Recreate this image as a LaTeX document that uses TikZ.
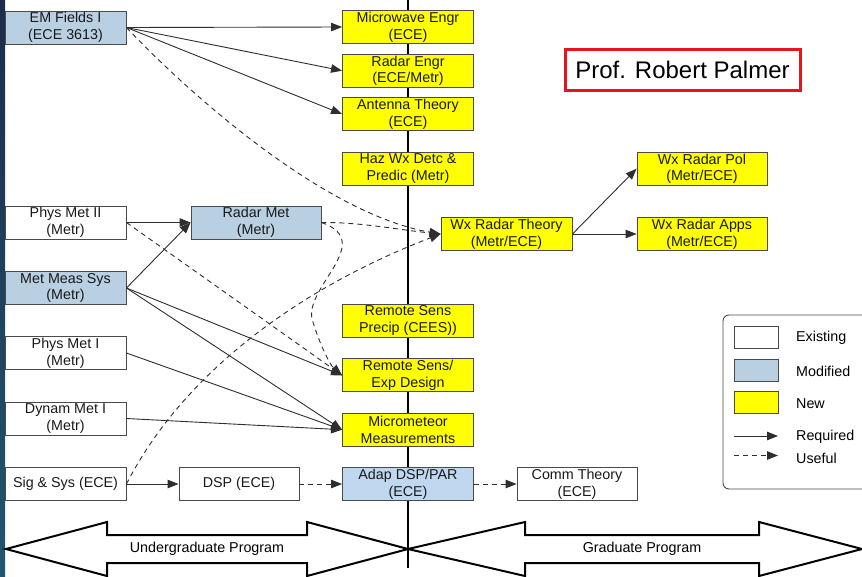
\documentclass[tikz,border=0pt]{standalone}
\usepackage{fontspec}
\setmainfont{Liberation Sans}
\usetikzlibrary{arrows.meta}
\definecolor{modblue}{HTML}{B9CFE2}
\definecolor{adapblue}{HTML}{BFD8F0}
\definecolor{newyellow}{HTML}{FFFF00}
\definecolor{boxline}{HTML}{4A4A4A}
\definecolor{linegray}{HTML}{2E2E2E}
\definecolor{profred}{HTML}{E8141C}
\definecolor{stripA}{HTML}{1B2D4B}
\definecolor{stripB}{HTML}{22566F}
\begin{document}
\begin{tikzpicture}[x=1pt,y=-1pt,
  course/.style={draw=boxline, line width=0.9pt, inner sep=0pt, align=center,
    font=\fontsize{14.3}{16.8}\selectfont, text=black!90},
  existing/.style={course, fill=white},
  modified/.style={course, fill=modblue},
  newc/.style={course, fill=newyellow},
  leftw/.style={minimum width=121pt, minimum height=33pt},
  midw/.style={minimum width=131pt, minimum height=33pt},
  narrow/.style={minimum width=120pt, minimum height=33pt},
  req/.style={draw=linegray, line width=0.9pt, -{Triangle[length=11pt,width=8.5pt]}},
  use/.style={req, dash pattern=on 5pt off 4pt},
  bigarrow/.style={draw=black, line width=2pt, fill=white, line join=miter},
  legtext/.style={anchor=west, inner sep=0pt, font=\fontsize{14.3}{16.8}\selectfont}
]
\useasboundingbox (0,0) rectangle (862,576);
\fill[white] (0,0) rectangle (862,576);
% dark window edge on the left
\shade[top color=stripA, bottom color=stripB] (0,0) rectangle (5,576);

% program divider
\draw[line width=2.5pt] (408,0) -- (408,568);

% undergraduate / graduate double arrows
\draw[bigarrow] (6,549) -- (107,522) -- (107,535) -- (307,535) -- (307,522) -- (408,549)
  -- (307,576) -- (307,563) -- (107,563) -- (107,576) -- cycle;
\draw[bigarrow] (408,549) -- (525,522) -- (525,535) -- (759,535) -- (759,522) -- (862,549)
  -- (759,576) -- (759,563) -- (525,563) -- (525,576) -- cycle;
\draw[line width=2.5pt] (408,521) -- (408,568);
\node[font=\fontsize{14.3}{16.8}\selectfont] (ug) at (207,549) {Undergraduate Program};
\node[font=\fontsize{14.3}{16.8}\selectfont] (gp) at (642,549) {Graduate Program};

% left column
\node[modified, leftw] (emf) at (65.5,27.5) {EM Fields I\\(ECE 3613)};
\node[existing, leftw] (pm2) at (65.5,222.5) {Phys Met II\\(Metr)};
\node[modified, leftw] (mms) at (65.5,288) {Met Meas Sys\\(Metr)};
\node[existing, leftw] (pm1) at (65.5,353) {Phys Met I\\(Metr)};
\node[existing, leftw] (dm1) at (65.5,418.5) {Dynam Met I\\(Metr)};
\node[existing, leftw] (sig) at (65.5,484) {Sig \& Sys (ECE)};

\node[modified, minimum width=130pt, minimum height=33pt] (rm) at (256,222.5) {Radar Met\\(Metr)};
\node[existing, narrow] (dsp) at (239,484) {DSP (ECE)};

% centre column
\node[newc, midw] (mw) at (408,27) {Microwave Engr\\(ECE)};
\node[newc, midw] (re) at (408,70.7) {Radar Engr\\(ECE/Metr)};
\node[newc, midw] (at) at (408,114) {Antenna Theory\\(ECE)};
\node[newc, midw] (hz) at (408,168.7) {Haz Wx Detc \&\\Predic (Metr)};
\node[newc, midw] (rsp) at (408,320.7) {Remote Sens\\Precip (CEES))};
\node[newc, midw] (rse) at (408,375.3) {Remote Sens/\\Exp Design};
\node[newc, midw] (mm) at (408,429.7) {Micrometeor\\Measurements};
\node[course, fill=adapblue, midw] (ad) at (408,484) {Adap DSP/PAR\\(ECE)};

% graduate side
\node[newc, midw] (wxt) at (506.5,234) {Wx Radar Theory\\(Metr/ECE)};
\node[newc, minimum width=130pt, minimum height=33pt] (wxp) at (702,168.7) {Wx Radar Pol\\(Metr/ECE)};
\node[newc, minimum width=130pt, minimum height=33pt] (wxa) at (702,234) {Wx Radar Apps\\(Metr/ECE)};
\node[existing, narrow] (ct) at (577,484) {Comm Theory\\(ECE)};

% name tag
\node[draw=profred, line width=3pt, minimum width=235pt, minimum height=41pt, inner sep=0pt,
  font=\fontsize{24}{28}\selectfont] (prof) at (682.5,69.5) {Prof. Robert Palmer};

% required links
\draw[req] (emf.east) -- (mw.west);
\draw[req] (emf.east) -- (re.west);
\draw[req] (emf.east) -- (at.west);
\draw[req] (pm2.east) -- (rm.west);
\draw[req] (mms.east) -- (rm.west);
\draw[req] (mms.east) -- (rse.west);
\draw[req] (mms.east) -- (mm.west);
\draw[req] (pm1.east) -- (mm.west);
\draw[req] (dm1.east) -- (mm.west);
\draw[req] (sig.east) -- (dsp.west);
\draw[req] (wxt.east) -- (wxp.west);
\draw[req] (wxt.east) -- (wxa.west);

% useful links
\draw[use] (emf.east) .. controls (200,105) and (330,215) .. (wxt.west);
\draw[use] (rm.east) .. controls (360,222) and (400,230) .. (wxt.west);
\draw[use] (rm.east) .. controls (378,242) and (300,290) .. (313,322)
  .. controls (320,345) and (330,365) .. (rse.west);
\draw[use] (pm2.east) -- (rse.west);
\draw[use] (sig.east) .. controls (190,360) and (320,280) .. (wxt.west);
\draw[use] (dsp.east) -- (ad.west);
\draw[use] (ad.east) -- (ct.west);

% legend
\draw[draw=boxline, line width=0.9pt, rounded corners=6pt, fill=white] (723,315) rectangle (880,489);
\node[existing, minimum width=44pt, minimum height=21.5pt] (kex) at (756,337.5) {};
\node[modified, minimum width=44pt, minimum height=22pt] (kmo) at (756,370) {};
\node[newc, minimum width=44pt, minimum height=21.5pt] (kne) at (756,402.5) {};
\coordinate (kra) at (734,436);
\coordinate (krb) at (778,436);
\coordinate (kua) at (734,455.5);
\coordinate (kub) at (778,455.5);
\draw[req] (kra) -- (krb);
\draw[use] (kua) -- (kub);
\node[legtext] (lex) at (796,338) {Existing};
\node[legtext] (lmo) at (796,371) {Modified};
\node[legtext] (lne) at (796,404) {New};
\node[legtext] (lre) at (796,436.5) {Required};
\node[legtext] (lus) at (796,458) {Useful};
\end{tikzpicture}
\end{document}
